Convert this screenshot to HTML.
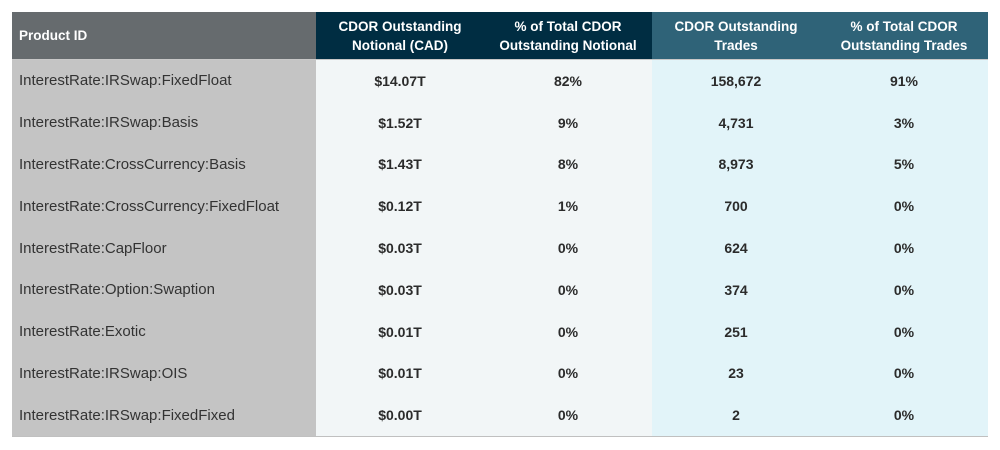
<!DOCTYPE html>
<html><head><meta charset="utf-8"><style>
body{margin:0;width:1000px;height:450px;background:#fff;font-family:"Liberation Sans",sans-serif;overflow:hidden}
table{position:absolute;left:12px;top:12px;border-collapse:collapse;table-layout:fixed;width:976px}
th{height:47px;color:#fff;font-weight:bold;font-size:13.5px;line-height:19px;text-align:center;padding:0;border-bottom:1px solid #c8c8c8}
th.c1{background:#666b6e;text-align:left;padding-left:7px}
th.n{background:#002d42}
th.t{background:#2f6378}
td{height:41.8px;padding:0;text-align:center;font-weight:bold;font-size:14px;color:#2b2b2b}
td.c1{background:#c4c4c4;text-align:left;padding-left:7px;font-weight:normal;font-size:15px;color:#333}
td.n{background:#f2f6f7}
td.t{background:#e2f4f9}
tr:last-child td{border-bottom:1px solid #c0c0c0}
</style></head><body>
<table>
<colgroup><col style="width:304px"><col style="width:168px"><col style="width:168px"><col style="width:168px"><col style="width:168px"></colgroup>
<thead><tr>
<th class="c1">Product ID</th>
<th class="n">CDOR Outstanding<br>Notional (CAD)</th>
<th class="n">% of Total CDOR<br>Outstanding Notional</th>
<th class="t">CDOR Outstanding<br>Trades</th>
<th class="t">% of Total CDOR<br>Outstanding Trades</th>
</tr></thead>
<tbody id="tb"></tbody>
</table>
<script>
const products=["InterestRate:IRSwap:FixedFloat","InterestRate:IRSwap:Basis","InterestRate:CrossCurrency:Basis","InterestRate:CrossCurrency:FixedFloat","InterestRate:CapFloor","InterestRate:Option:Swaption","InterestRate:Exotic","InterestRate:IRSwap:OIS","InterestRate:IRSwap:FixedFixed"];
const notional=["$14.07T","$1.52T","$1.43T","$0.12T","$0.03T","$0.03T","$0.01T","$0.01T","$0.00T"];
const notionalPct=["82%","9%","8%","1%","0%","0%","0%","0%","0%"];
const trades=["158,672","4,731","8,973","700","624","374","251","23","2"];
const tradesPct=["91%","3%","5%","0%","0%","0%","0%","0%","0%"];
const tb=document.getElementById('tb');
products.forEach((p,i)=>{
  const tr=document.createElement('tr');
  
  
  const cells=[[p,'c1','product-id-cell'],[notional[i],'n','notional-cell'],[notionalPct[i],'n','notional-pct-cell'],[trades[i],'t','trades-cell'],[tradesPct[i],'t','trades-pct-cell']];
  cells.forEach(c=>{
    const td=document.createElement('td');
    td.className=c[1];
    td.textContent=c[0];
    
    
    tr.appendChild(td);
  });
  tb.appendChild(tr);
});
</script>
</body></html>
